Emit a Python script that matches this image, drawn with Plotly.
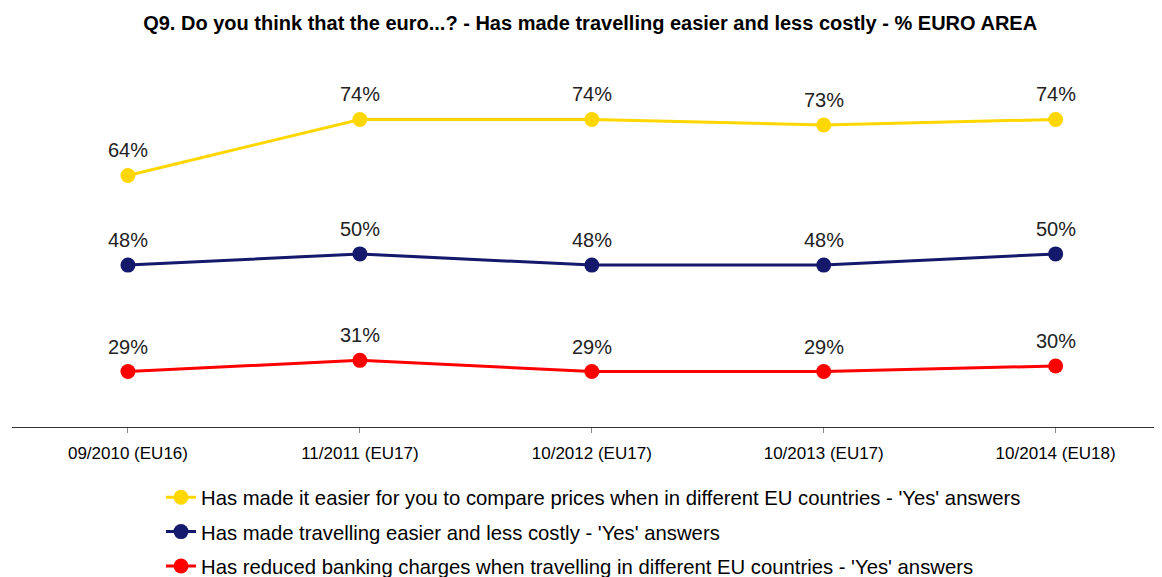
import plotly.graph_objects as go

categories = ["09/2010 (EU16)", "11/2011 (EU17)", "10/2012 (EU17)", "10/2013 (EU17)", "10/2014 (EU18)"]
compare_prices = [64, 74, 74, 73, 74]
travelling = [48, 50, 48, 48, 50]
banking = [29, 31, 29, 29, 30]

series = [
    ("Has made it easier for you to compare prices when in different EU countries - 'Yes' answers", compare_prices, "#FFD700"),
    ("Has made travelling easier and less costly - 'Yes' answers", travelling, "#14196B"),
    ("Has reduced banking charges when travelling in different EU countries - 'Yes' answers", banking, "#FF0000"),
]

FONT = "Liberation Sans, Arial, sans-serif"

fig = go.Figure()
xs = list(range(len(categories)))
annotations = []
for i, (name, vals, color) in enumerate(series):
    fig.add_trace(go.Scatter(
        x=xs, y=vals, name=name, mode="lines+markers", legendgroup=f"g{i}",
        line=dict(color=color, width=3),
        marker=dict(color=color, size=15),
        cliponaxis=False,
    ))
    for x, v in zip(xs, vals):
        annotations.append(dict(x=x, y=v, text=f"{v}%", showarrow=False, xref="x", yref="y",
                                yanchor="middle", yshift=25,
                                font=dict(family=FONT, size=20, color="#222222")))

fig.update_layout(
    width=1162, height=577,
    margin=dict(l=4, r=10, t=42, b=158, autoexpand=False),
    paper_bgcolor="white", plot_bgcolor="white",
    title=dict(text="<b>Q9. Do you think that the euro...? - Has made travelling easier and less costly - % EURO AREA</b>",
               x=0.501, xanchor="center", y=0.974, yanchor="middle",
               font=dict(family=FONT, size=20, color="black")),
    xaxis=dict(tickmode="array", tickvals=xs, ticktext=categories, range=[-0.5, 4.45],
               showline=True, linecolor="#333333", linewidth=1, ticks="outside", ticklen=5,
               tickcolor="#888888", showgrid=False, zeroline=False, ticklabelstandoff=6,
               automargin=False,
               tickfont=dict(family=FONT, size=17, color="black")),
    yaxis=dict(range=[19.1, 86.4], visible=False, showgrid=False, automargin=False),
    annotations=annotations,
    showlegend=True,
    legend=dict(x=0.1298, xanchor="left", y=-0.134, yanchor="top",
                font=dict(family=FONT, size=20.3, color="black"),
                tracegroupgap=5, itemwidth=30, bgcolor="rgba(0,0,0,0)"),
)

fig.write_html("out.html")
